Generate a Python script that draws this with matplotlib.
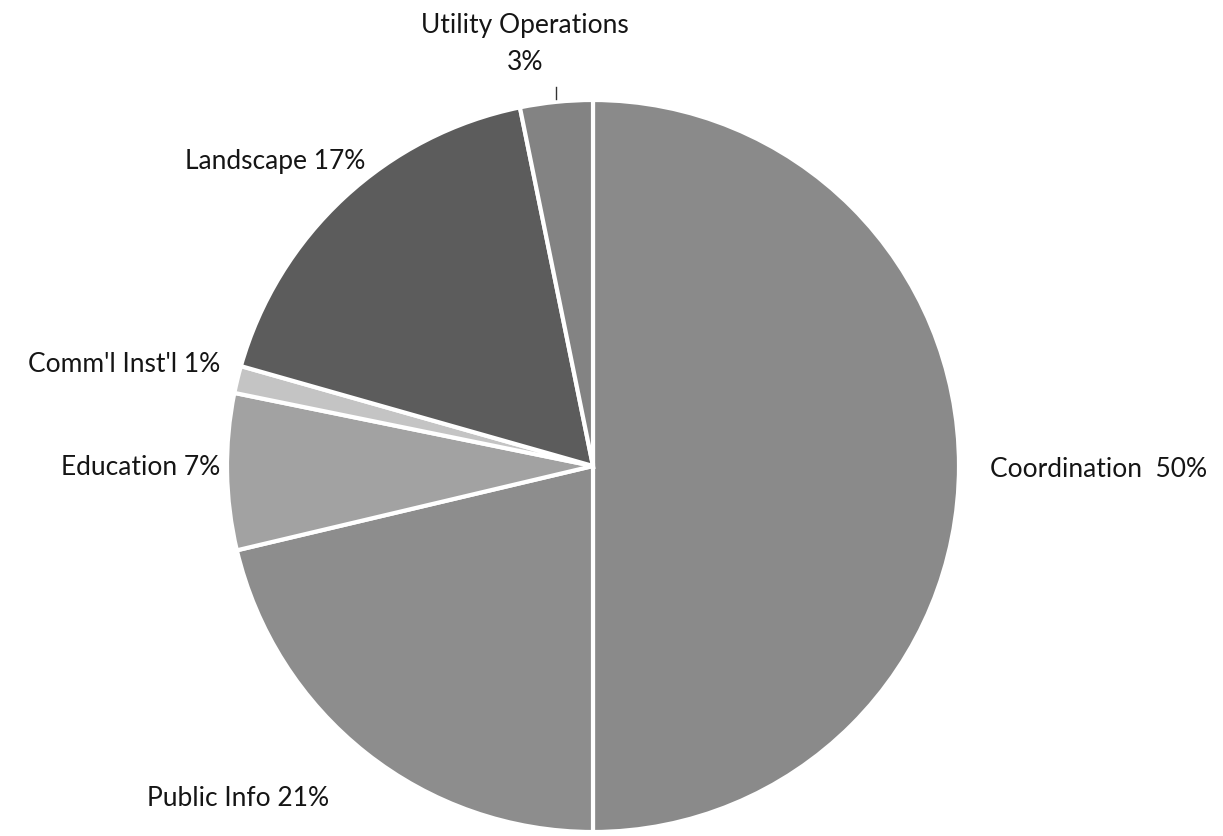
import matplotlib
matplotlib.use("Agg")
import matplotlib.pyplot as plt

# slices, clockwise from 12 o'clock
categories = ["Coordination", "Public Info", "Education", "Comm'l Inst'l",
              "Landscape", "Utility Operations"]
shares = [50.0, 21.3, 6.9, 1.2, 17.4, 3.2]
labels = ["Coordination  50%", "Public Info 21%", "Education 7%",
          "Comm'l Inst'l 1%", "Landscape 17%", "Utility Operations\n3%"]
colors = ["#8a8a8a", "#8d8d8d", "#a2a2a2", "#c4c4c4", "#5c5c5c", "#838383"]

W, H = 1223, 837
CX, CY, R = 593, H - 467, 366

fig = plt.figure(figsize=(W / 100, H / 100), dpi=100)
ax = fig.add_axes([0, 0, 1, 1])

ax.pie(shares, colors=colors, startangle=90, counterclock=False,
       center=(CX, CY), radius=R, frame=True,
       wedgeprops=dict(edgecolor="white", linewidth=3))
ax.set_xlim(0, W)
ax.set_ylim(0, H)
ax.set_aspect("equal")
ax.axis("off")

font = dict(family="Lato", fontsize=19, color="#151515")
# label anchors in pixel coords (x, y from top, ha)
pos = [(990, 470, "left"), (147, 799, "left"), (220, 468, "right"),
       (220, 364, "right"), (185, 162, "left"), (525, 44, "center")]
for lab, (x, y, ha) in zip(labels, pos):
    ax.text(x, H - y, lab, ha=ha, va="center", linespacing=1.6, **font)

# leader line for the small top slice
ax.plot([556, 556], [H - 88, H - 100], color="#333333", lw=1)

fig.savefig("out.png", dpi=100)
